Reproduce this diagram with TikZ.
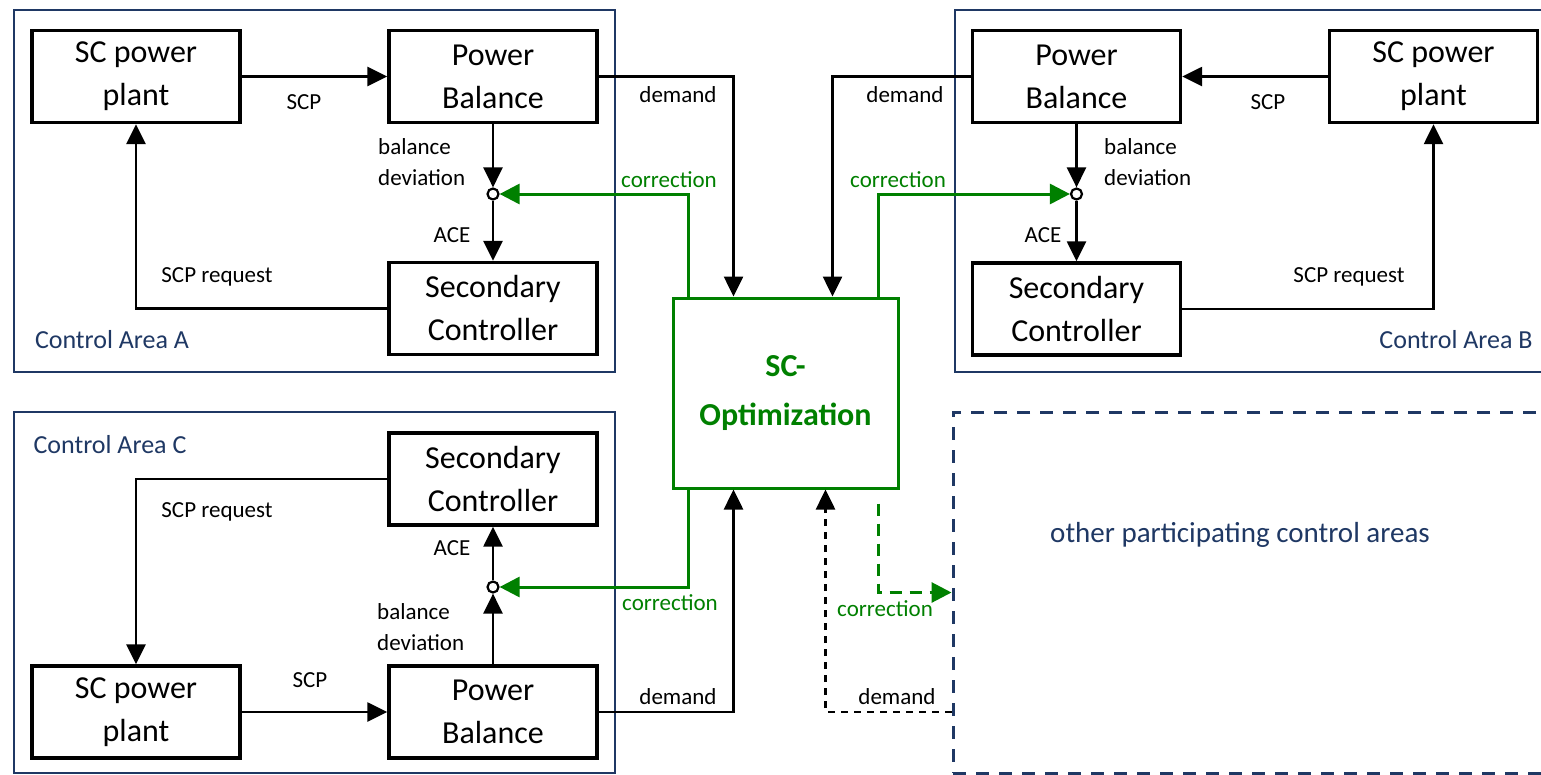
\documentclass[tikz,border=0pt]{standalone}
\usepackage{fontspec}
\setmainfont{Carlito}
\usetikzlibrary{arrows.meta,calc}
\definecolor{navy}{RGB}{31,56,100}
\definecolor{dgreen}{RGB}{0,128,0}
\begin{document}
\begin{tikzpicture}[x=1pt,y=-1pt,
  blk/.style={draw=black,line width=3.4pt,minimum width=208pt,minimum height=92pt,inner sep=0pt,align=center,font=\fontsize{32}{43}\selectfont},
  area/.style={draw=navy,line width=2.8pt,inner sep=0pt},
  otherbox/.style={draw=navy,line width=3pt,dash pattern=on 13pt off 10pt,inner sep=0pt},
  optbox/.style={draw=dgreen,line width=3pt,minimum width=225pt,minimum height=190pt,inner sep=0pt,align=center,text=dgreen,font=\fontsize{32}{49}\selectfont\bfseries},
  conn/.style={draw=black,line width=2.6pt,-{Triangle[length=20pt,width=19pt]}},
  plainconn/.style={draw=black,line width=2.6pt},
  gconn/.style={draw=dgreen,line width=3pt,-{Triangle[length=20pt,width=20pt]}},
  gdash/.style={draw=dgreen,line width=3pt,dash pattern=on 12pt off 8pt,-{Triangle[length=20pt,width=20pt]}},
  kdash/.style={draw=black,line width=2.6pt,dash pattern=on 7pt off 6pt,-{Triangle[length=20pt,width=19pt]}},
  sum/.style={circle,draw=black,fill=white,line width=2.2pt,minimum size=11pt,inner sep=0pt},
  lbl/.style={font=\fontsize{23}{31}\selectfont,inner sep=0pt},
  glbl/.style={lbl,text=dgreen},
  alabel/.style={font=\fontsize{26}{30}\selectfont,text=navy,inner sep=0pt},
]
\useasboundingbox (0,0) rectangle (1541,774);
\fill[white] (0,0) rectangle (1541,774);

% control area frames
\node[area,minimum width=601pt,minimum height=362pt] (areaA) at (314.5,191) {};
\node[area,minimum width=615pt,minimum height=362pt] (areaB) at (1262.5,191) {};
\node[area,minimum width=601pt,minimum height=361pt] (areaC) at (314.5,592.5) {};
\node[otherbox,minimum width=617pt,minimum height=361pt] (other) at (1261.5,592.5) {};

\node[alabel] (labA) at (112,340) {Control Area A};
\node[alabel] (labB) at (1456,340) {Control Area B};
\node[alabel] (labC) at (110,445) {Control Area C};
\node[font=\fontsize{29}{34}\selectfont,text=navy,inner sep=0pt] (otxt) at (1240,535) {other participating control areas};

% central optimisation
\node[optbox] (opt) at (785.5,393) {SC-\\Optimization};

% Area A
\node[blk] (plA) at (136,76.5) {SC power\\plant};
\node[blk] (pbA) at (493,76.5) {Power\\Balance};
\node[blk] (scA) at (493,308.5) {Secondary\\Controller};
\node[sum] (sumA) at (493,194) {};

% Area B
\node[blk] (pbB) at (1076.5,76.5) {Power\\Balance};
\node[blk] (plB) at (1433.5,76.5) {SC power\\plant};
\node[blk] (scB) at (1076.5,309) {Secondary\\Controller};
\node[sum] (sumB) at (1076.5,194) {};

% Area C
\node[blk] (scC) at (493,479) {Secondary\\Controller};
\node[blk] (plC) at (136,712) {SC power\\plant};
\node[blk] (pbC) at (493,712) {Power\\Balance};
\node[sum] (sumC) at (493,587) {};

% connectors A
\draw[conn] (plA.east) -- (pbA.west);
\draw[conn] (pbA.south) -- (sumA.north);
\draw[conn] (sumA.south) -- (scA.north);
\draw[conn] (scA.west) -| (plA.south);
\draw[conn] (pbA.east) -| ([xshift=62pt]opt.north west);
\draw[gconn] ([xshift=17pt]opt.north west) |- (sumA.east);

% connectors B
\draw[conn] (plB.west) -- (pbB.east);
\draw[conn] (pbB.south) -- (sumB.north);
\draw[conn] (sumB.south) -- (scB.north);
\draw[conn] (scB.east) -| (plB.south);
\draw[conn] (pbB.west) -| ([xshift=161pt]opt.north west);
\draw[gconn] ([xshift=207pt]opt.north west) |- (sumB.west);

% connectors C
\draw[conn] (plC.east) -- (pbC.west);
\draw[conn] (pbC.north) -- (sumC.south);
\draw[conn] (sumC.north) -- (scC.south);
\draw[conn] (scC.west) -| (plC.north);
\draw[conn] (pbC.east) -| ([xshift=62pt]opt.south west);
\draw[gconn] ([xshift=17pt]opt.south west) |- (sumC.east);

% other areas
\draw[gdash] ([xshift=207pt,yshift=-14pt]opt.south west) |- (other.west);
\draw[kdash] (other.west |- pbC.east) -| ([xshift=154pt]opt.south west);

% labels A
\node[lbl] (tA1) at (304,102) {SCP};
\node[lbl,anchor=west,align=left] (tA2) at (378,162.5) {balance\\deviation};
\node[lbl] (tA3) at (452,235) {ACE};
\node[lbl] (tA4) at (217,277) {SCP request};
\node[lbl] (tA5) at (678,95) {demand};
\node[glbl] (tA6) at (669,180) {correction};

% labels B
\node[lbl] (tB1) at (1268,102) {SCP};
\node[lbl,anchor=west,align=left] (tB2) at (1104,162.5) {balance\\deviation};
\node[lbl] (tB3) at (1043,235) {ACE};
\node[lbl] (tB4) at (1349,277) {SCP request};
\node[lbl] (tB5) at (905,95) {demand};
\node[glbl] (tB6) at (898,180) {correction};

% labels C
\node[lbl] (tC1) at (310,680) {SCP};
\node[lbl,anchor=west,align=left] (tC2) at (377,627) {balance\\deviation};
\node[lbl] (tC3) at (452,548) {ACE};
\node[lbl] (tC4) at (217,512) {SCP request};
\node[lbl] (tC5) at (678,697) {demand};
\node[glbl] (tC6) at (670,603) {correction};

% labels other
\node[glbl] (tD1) at (885,609) {correction};
\node[lbl] (tD2) at (897,697) {demand};
\end{tikzpicture}
\end{document}
